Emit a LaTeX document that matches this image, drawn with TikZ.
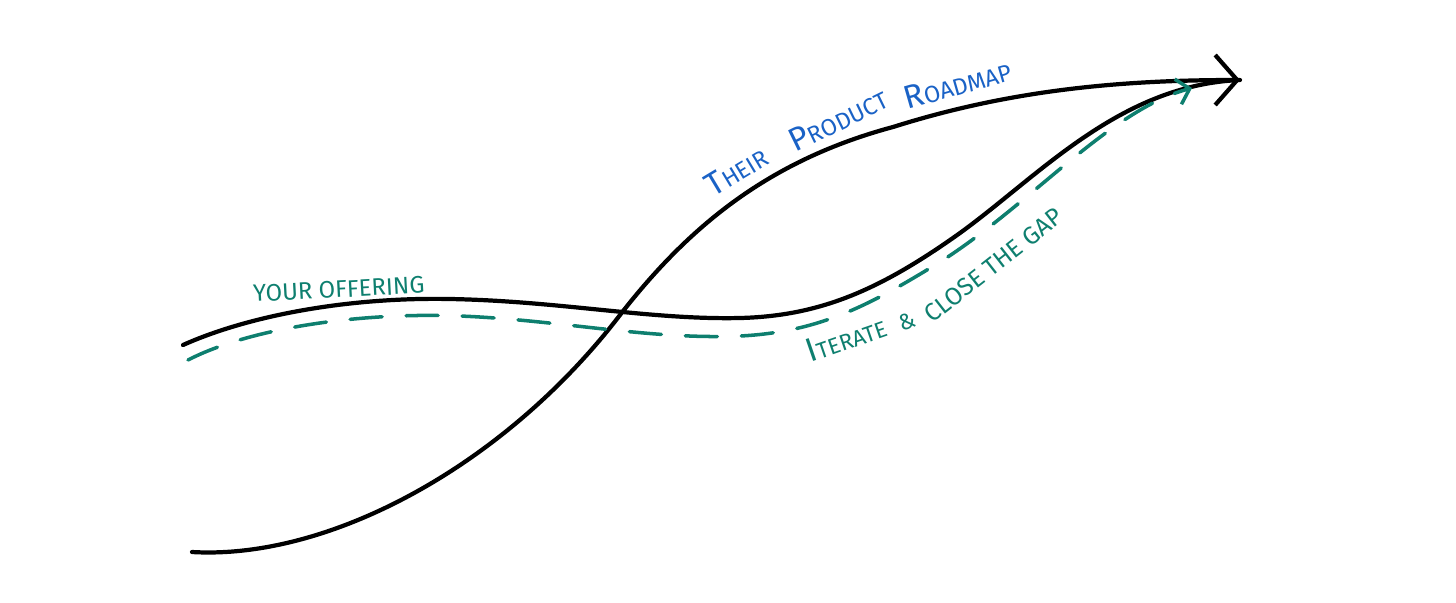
\documentclass[tikz,border=0pt]{standalone}
\usepackage{fontspec}
\setmainfont{Fira Sans}
\usetikzlibrary{arrows.meta}
\definecolor{roadblue}{HTML}{1A62C6}
\definecolor{offgreen}{HTML}{0E7F6F}
\newcommand\hwb[2]{{\fontsize{9.3}{9.3}\selectfont #1}{\fontsize{6.7}{6.7}\selectfont #2}}
\tikzset{
  blackline/.style={line width=1.2pt, line cap=round, black},
  greendash/.style={line width=1pt, line cap=round, offgreen, dash pattern=on 3.2mm off 2.4mm},
  bluelabel/.style={text=roadblue, inner sep=0pt, anchor=base west},
  greenlabel/.style={text=offgreen, inner sep=0pt, anchor=base west},
}
\begin{document}
\begin{tikzpicture}[x=0.01cm,y=-0.01cm]
\useasboundingbox (0,0) rectangle (1456,602);
% key points
\coordinate (rstart) at (192,552);
\coordinate (cross) at (620,315);
\coordinate (rmid) at (893,127);
\coordinate (tip) at (1240,80);
\coordinate (ostart) at (183,345);
\coordinate (o1) at (450,299);
\coordinate (o2) at (740,318);
\coordinate (o3) at (960,233);
\coordinate (gstart) at (188,360);
\coordinate (g1) at (460,316);
\coordinate (g2) at (740,336);
\coordinate (g3) at (940,262);
\coordinate (gtip) at (1192,88);
% their product roadmap
\draw[blackline, -{Straight Barb[length=2.2mm,width=5mm,line width=1.2pt]}]
  (rstart) .. controls (330,560) and (505,465) .. (cross)
  .. controls (690,225) and (770,160) .. (rmid)
  .. controls (1010,90) and (1120,80) .. (tip);
% your offering
\draw[blackline]
  (ostart) .. controls (250,315) and (350,297) .. (o1)
  .. controls (560,301) and (650,320) .. (o2)
  .. controls (820,316) and (880,290) .. (o3)
  .. controls (1040,175) and (1120,85) .. (tip);
% iterate & close the gap
\draw[greendash, -{Straight Barb[length=1.2mm,width=2.6mm,line width=1pt]}]
  (gstart) .. controls (250,328) and (360,312) .. (g1)
  .. controls (560,320) and (650,340) .. (g2)
  .. controls (820,332) and (870,305) .. (g3)
  .. controls (1030,205) and (1110,110) .. (gtip);
% labels
\node[bluelabel, rotate=31] (lthe) at (713,198) {\hwb{T}{HEIR}};
\node[bluelabel, rotate=26] (lpro) at (795,153) {\hwb{P}{RODUCT}};
\node[bluelabel, rotate=16] (lroa) at (907,110) {\hwb{R}{OADMAP}};
\node[greenlabel, rotate=3] (lyour) at (253,302) {\fontsize{6.8}{6.8}\selectfont YOUR OFFERING};
\node[greenlabel, rotate=19] (lit) at (810,363) {{\fontsize{9.5}{9.5}\selectfont I}{\fontsize{6.4}{6.4}\selectfont TERATE\hspace{0.6em}\&}};
\node[greenlabel, rotate=38] (lclo) at (932,324) {\fontsize{7}{7}\selectfont CLOSE THE GAP};
\end{tikzpicture}
\end{document}
